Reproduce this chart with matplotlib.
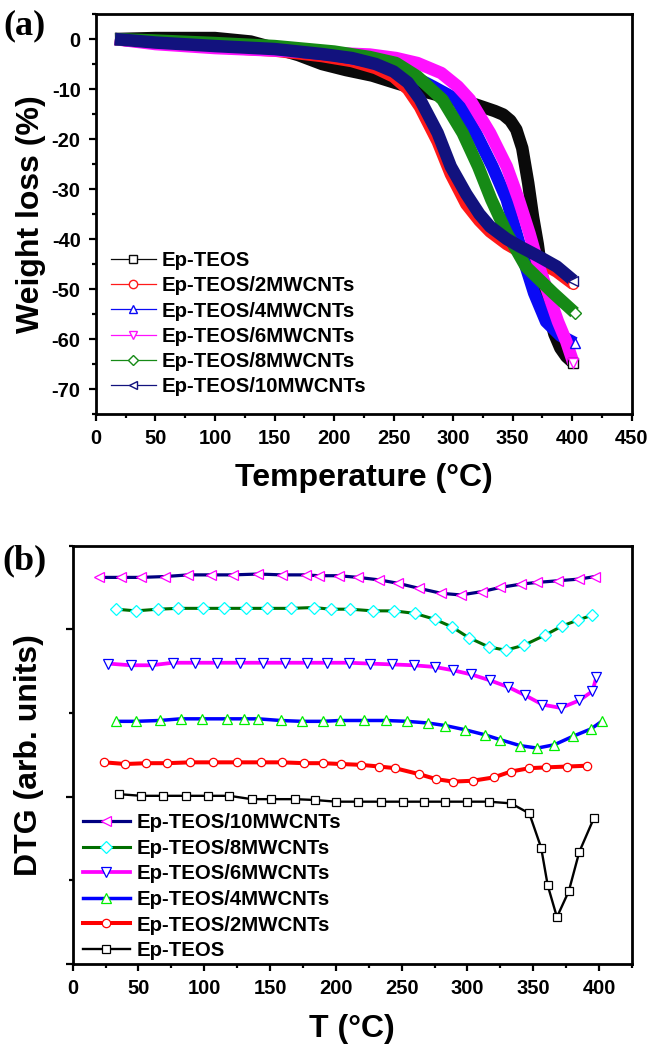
import matplotlib
matplotlib.use("Agg")
import matplotlib.pyplot as plt
from matplotlib.lines import Line2D
from matplotlib.ticker import MultipleLocator

plt.rcParams['font.family'] = ['Liberation Sans', 'DejaVu Sans']
plt.rcParams['font.weight'] = 'bold'
plt.rcParams['axes.unicode_minus'] = False

labels = ['Ep-TEOS', 'Ep-TEOS/2MWCNTs', 'Ep-TEOS/4MWCNTs',
          'Ep-TEOS/6MWCNTs', 'Ep-TEOS/8MWCNTs', 'Ep-TEOS/10MWCNTs']

# ---------------- (a) TGA weight loss ----------------
T_ep = [16, 50, 100, 130, 150, 170, 190, 210, 232, 252, 276, 301, 319, 335, 342, 348, 353, 358, 363, 367, 371, 375, 380, 385, 390, 395, 401]
w_ep = [0, 0.2, 0.2, -0.5, -1.8, -3.2, -5.0, -6.2, -7.3, -8.8, -10.5, -12.1, -13.1, -14.4, -15.1, -16.3, -18.1, -21.8, -28.8, -35.5, -41.0, -48.0, -54.5, -59.0, -61.8, -63.5, -64.8]

T_2 = [16, 50, 100, 150, 190, 215, 235, 250, 262, 272, 287, 298, 311, 322, 331, 345, 356, 372, 387, 401]
w_2 = [0, -0.8, -1.6, -2.3, -3.4, -4.4, -5.8, -7.5, -10.0, -13.5, -20.5, -27.0, -33.0, -36.3, -38.5, -41.0, -42.5, -44.5, -46.5, -49.0]

T_4 = [16, 50, 100, 150, 200, 235, 250, 265, 283, 303, 319, 333, 345, 353, 361, 368, 378, 390, 402]
w_4 = [0, -0.7, -1.4, -2.0, -3.2, -4.7, -5.8, -7.3, -9.5, -12.1, -18.8, -25.5, -32.1, -38.8, -45.5, -50.8, -56.5, -59.3, -60.8]

T_6 = [16, 50, 100, 150, 200, 230, 252, 270, 290, 304, 314, 331, 345, 355, 364, 372, 380, 388, 395, 401]
w_6 = [0, -1.0, -1.8, -2.3, -2.8, -3.1, -3.8, -4.8, -6.8, -9.5, -12.1, -18.8, -25.5, -32.1, -38.8, -45.5, -51.0, -56.5, -60.5, -64.8]

T_8 = [16, 50, 100, 150, 200, 230, 252, 270, 291, 308, 321, 332, 345, 361, 384, 402]
w_8 = [0, -0.3, -0.8, -1.4, -2.5, -3.6, -4.8, -7.5, -12.1, -18.8, -25.5, -32.1, -38.8, -45.5, -50.8, -54.7]

T_10 = [16, 50, 100, 150, 190, 215, 235, 250, 262, 272, 287, 298, 311, 322, 331, 345, 356, 372, 387, 401]
w_10 = [0, -0.7, -1.4, -2.0, -3.0, -3.8, -5.0, -6.5, -8.7, -12.0, -18.8, -25.5, -31.0, -35.0, -37.5, -40.0, -41.5, -43.5, -45.5, -48.3]

# ---------------- (b) DTG (arbitrary offset units) ----------------
Tb_ep = [35, 52, 69, 86, 103, 119, 136, 151, 169, 184, 200, 217, 234, 251, 267, 283, 300, 316, 333, 347, 356, 361, 368, 377, 385, 396]
d_ep = [2.03, 2.01, 2.01, 2.01, 2.01, 2.01, 1.97, 1.97, 1.97, 1.96, 1.94, 1.94, 1.94, 1.94, 1.94, 1.94, 1.94, 1.94, 1.92, 1.80, 1.39, 0.94, 0.56, 0.87, 1.34, 1.74]

Tb_2 = [24, 40, 56, 72, 89, 107, 125, 143, 159, 176, 190, 204, 219, 233, 245, 263, 276, 289, 304, 320, 333, 347, 360, 376, 391]
d_2 = [2.41, 2.39, 2.40, 2.40, 2.41, 2.41, 2.41, 2.41, 2.41, 2.40, 2.40, 2.39, 2.38, 2.36, 2.34, 2.27, 2.21, 2.18, 2.19, 2.23, 2.30, 2.34, 2.35, 2.36, 2.37]

Tb_4 = [33, 48, 66, 82, 98, 117, 130, 141, 158, 174, 190, 203, 221, 238, 254, 270, 283, 298, 313, 325, 340, 353, 366, 380, 394, 402]
d_4 = [2.90, 2.90, 2.91, 2.93, 2.93, 2.93, 2.93, 2.93, 2.91, 2.90, 2.90, 2.91, 2.91, 2.91, 2.90, 2.88, 2.85, 2.80, 2.74, 2.68, 2.61, 2.58, 2.62, 2.72, 2.81, 2.90]

Tb_6 = [27, 44, 60, 76, 93, 110, 127, 145, 161, 178, 193, 210, 226, 243, 259, 275, 289, 303, 317, 331, 344, 357, 371, 385, 395, 398]
d_6 = [3.59, 3.57, 3.57, 3.60, 3.60, 3.60, 3.60, 3.60, 3.60, 3.60, 3.60, 3.60, 3.59, 3.58, 3.57, 3.55, 3.51, 3.46, 3.39, 3.31, 3.21, 3.10, 3.06, 3.15, 3.26, 3.43]

Tb_8 = [33, 48, 65, 80, 99, 115, 132, 148, 166, 183, 196, 211, 228, 244, 260, 275, 288, 301, 316, 329, 343, 359, 372, 384, 395]
d_8 = [4.24, 4.22, 4.24, 4.25, 4.25, 4.25, 4.25, 4.25, 4.25, 4.26, 4.24, 4.24, 4.22, 4.22, 4.19, 4.12, 4.03, 3.90, 3.79, 3.75, 3.81, 3.93, 4.04, 4.11, 4.17]

Tb_10 = [20, 37, 52, 70, 88, 105, 122, 141, 159, 177, 187, 202, 217, 233, 247, 263, 280, 295, 311, 325, 341, 353, 369, 385, 397]
d_10 = [4.62, 4.62, 4.62, 4.63, 4.65, 4.65, 4.65, 4.66, 4.65, 4.65, 4.64, 4.64, 4.62, 4.59, 4.55, 4.49, 4.43, 4.41, 4.45, 4.50, 4.54, 4.56, 4.58, 4.60, 4.63]

# ---------------- figure ----------------
fig = plt.figure(figsize=(6.48, 10.49), dpi=100)
ax1 = fig.add_axes([0.148, 0.6053, 0.827, 0.3813])
ax2 = fig.add_axes([0.1122, 0.0810, 0.863, 0.3989])

# panel (a) styles
a_series = [(T_ep, w_ep, '#0A0A0A', 's'), (T_2, w_2, '#FF1A1A', 'o'),
            (T_4, w_4, '#0A0AF5', '^'), (T_6, w_6, '#FF10FF', 'v'),
            (T_8, w_8, '#168A16', 'D'), (T_10, w_10, '#12127E', '<')]
for (T, w, c, m) in a_series:
    ax1.plot(T, w, color=c, lw=9, solid_capstyle='butt', solid_joinstyle='round', zorder=2)
    ax1.plot(T[-1:], w[-1:], ls='none', marker=m, ms=7 if m != 'D' else 6,
             mfc='white', mec=c, mew=1.0, zorder=3)

ax1.set_xlim(0, 450)
ax1.set_ylim(-75, 5)
ax1.xaxis.set_major_locator(MultipleLocator(50))
ax1.xaxis.set_minor_locator(MultipleLocator(25))
ax1.yaxis.set_major_locator(MultipleLocator(10))
ax1.yaxis.set_minor_locator(MultipleLocator(5))
ax1.set_xlabel('Temperature (\u00b0C)', fontsize=23, fontweight='bold')
ax1.set_ylabel('Weight loss (%)', fontsize=23, fontweight='bold')
ax1.xaxis.label.set_va('center')
ax1.yaxis.label.set_va('center')
ax1.xaxis.set_label_coords(0.5, -0.16)
ax1.yaxis.set_label_coords(-0.121, 0.5)

hand_a = [Line2D([], [], color=c, lw=0.9, marker=m, ms=6 if m != 'D' else 5,
                 mfc='white', mec=c, mew=1.0) for (_, _, c, m) in a_series]
ax1.legend(hand_a, labels, loc='upper left', bbox_to_anchor=(0.028, 0.408),
           frameon=False, handlelength=2.2, handletextpad=0.3,
           labelspacing=0.31, borderpad=0, borderaxespad=0,
           prop={'weight': 'bold', 'size': 14.7})
fig.text(0.038, 0.975, '(a)', fontsize=26, fontweight='bold',
         family=['Liberation Serif', 'DejaVu Serif'], ha='center', va='center')

# panel (b) styles
b_series = [(Tb_ep, d_ep, '#000000', '#000000', 's', 1.7, 5.3),
            (Tb_2, d_2, '#FF0000', '#FF0000', 'o', 2.9, 6.0),
            (Tb_4, d_4, '#0000FF', '#00EE00', '^', 2.5, 7.0),
            (Tb_6, d_6, '#FF00FF', '#0000FF', 'v', 2.7, 7.0),
            (Tb_8, d_8, '#006E00', '#00FFFF', 'D', 2.2, 6.2),
            (Tb_10, d_10, '#000080', '#FF00FF', '<', 2.3, 7.0)]
lines_b = []
for (T, d, lc, mc, m, lw, ms), lab in zip(b_series, labels):
    ln, = ax2.plot(T, d, color=lc, lw=lw, marker=m, ms=ms, mfc='white',
                   mec=mc, mew=0.9, label=lab)
    lines_b.append(ln)

ax2.set_xlim(0, 425)
ax2.set_ylim(0, 5)
ax2.xaxis.set_major_locator(MultipleLocator(50))
ax2.xaxis.set_minor_locator(MultipleLocator(25))
ax2.yaxis.set_major_locator(MultipleLocator(2))
ax2.yaxis.set_minor_locator(MultipleLocator(1))
ax2.set_yticklabels([])
ax2.set_xlabel('T (\u00b0C)', fontsize=23, fontweight='bold')
ax2.set_ylabel('DTG (arb. units)', fontsize=23, fontweight='bold')
ax2.xaxis.label.set_va('center')
ax2.yaxis.label.set_va('center')
ax2.xaxis.set_label_coords(0.5, -0.1554)
ax2.yaxis.set_label_coords(-0.078, 0.5)
ax2.legend(lines_b[::-1], labels[::-1], loc='upper left', bbox_to_anchor=(0.0184, 0.360),
           frameon=False, handlelength=2.3, handletextpad=0.35,
           labelspacing=0.32, borderpad=0, borderaxespad=0,
           prop={'weight': 'bold', 'size': 14.7})
fig.text(0.038, 0.465, '(b)', fontsize=26, fontweight='bold',
         family=['Liberation Serif', 'DejaVu Serif'], ha='center', va='center')

for ax in (ax1, ax2):
    for sp in ax.spines.values():
        sp.set_linewidth(2.0)
    ax.tick_params(which='major', direction='out', length=5, width=1.6,
                   labelsize=14.5, pad=6)
    ax.tick_params(which='minor', direction='out', length=3, width=1.6)
    ax.tick_params(top=False, right=False, which='both')
    for lab in ax.get_xticklabels() + ax.get_yticklabels():
        lab.set_fontweight('bold')

fig.savefig('out.png', dpi=100)
